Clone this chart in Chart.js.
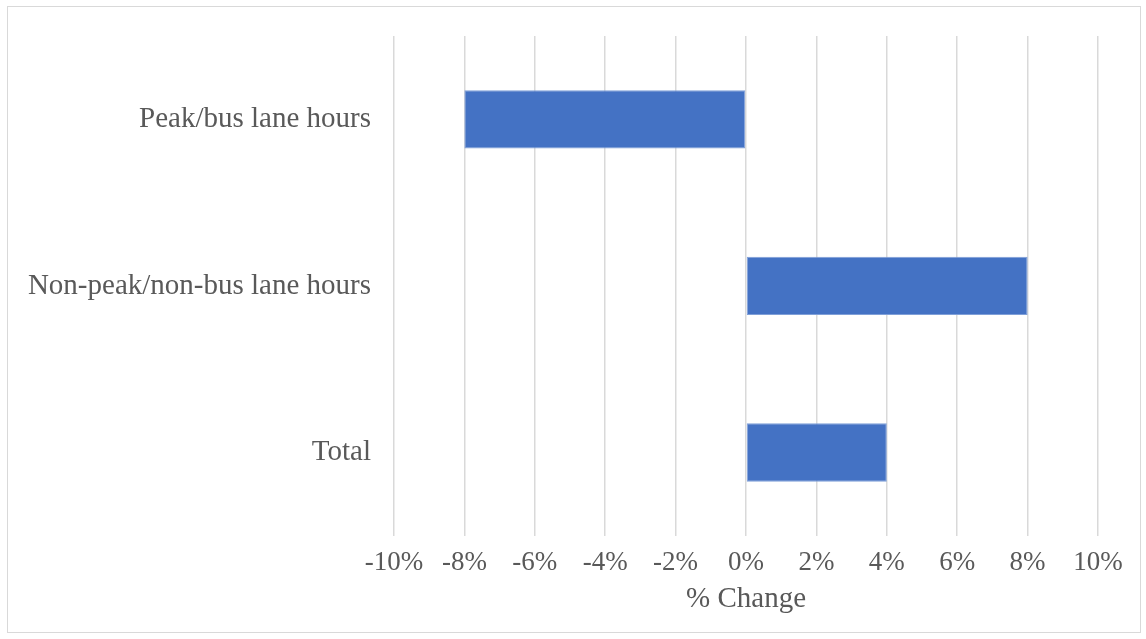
<!DOCTYPE html>
<html>
<head>
<meta charset="utf-8">
<script src="https://cdn.jsdelivr.net/npm/chart.js@4/dist/chart.umd.min.js"></script>
<style>
    body { margin: 0; background: #ffffff; }
    #frame {
        position: absolute;
        left: 7px;
        top: 6px;
        width: 1132px;
        height: 625px;
        border: 1px solid #d9d9d9;
    }
</style>
</head>
<body>
<div id="frame"><canvas id="change"></canvas></div>
<script>
// datos del gráfico
const categories = ["Peak/bus lane hours", "Non-peak/non-bus lane hours", "Total"];
const changeValues = [-8, 8, 4];
const tickMin = -10;
const tickMax = 10;
const tickStep = 2;
const axisTitle = "% Change";

const ctx = document.getElementById("change").getContext("2d");

new Chart(ctx, {
    type: "bar",
    data: {
        labels: categories,
        datasets: [
            {
                label: axisTitle,
                data: changeValues,
                backgroundColor: "#4472c4",
                borderColor: "#7f9fd8",
                borderWidth: 1,
                borderSkipped: false,
                barPercentage: 1,
                categoryPercentage: 0.35,
            },
        ],
    },
    options: {
        indexAxis: "y",
        responsive: true,
        maintainAspectRatio: false,
        animation: false,
        layout: {
            padding: { top: 29, right: 42, bottom: 15, left: 0 },
        },
        plugins: {
            legend: { display: false },
            tooltip: { enabled: false },
        },
        scales: {
            x: {
                min: tickMin,
                max: tickMax,
                ticks: {
                    stepSize: tickStep,
                    color: "#595959",
                    padding: 11,
                    font: { family: "'Liberation Serif', 'Times New Roman', serif", size: 27 },
                    callback: (v) => v + "%",
                },
                grid: { color: "#d9d9d9", lineWidth: 1.5, drawTicks: false },
                border: { display: false },
                title: {
                    display: true,
                    text: axisTitle,
                    color: "#595959",
                    padding: { top: -8, bottom: 0 },
                    font: { family: "'Liberation Serif', 'Times New Roman', serif", size: 29 },
                },
            },
            y: {
                ticks: {
                    color: "#595959",
                    padding: 23,
                    font: { family: "'Liberation Serif', 'Times New Roman', serif", size: 29 },
                },
                grid: { display: false, drawTicks: false },
                border: { display: false },
                afterFit: (scale) => {
                    scale.width = 386;
                    // sin relleno extra arriba/abajo por las etiquetas
                    scale.paddingTop = 0;
                    scale.paddingBottom = 0;
                },
            },
        },
    },
});
</script>
</body>
</html>
